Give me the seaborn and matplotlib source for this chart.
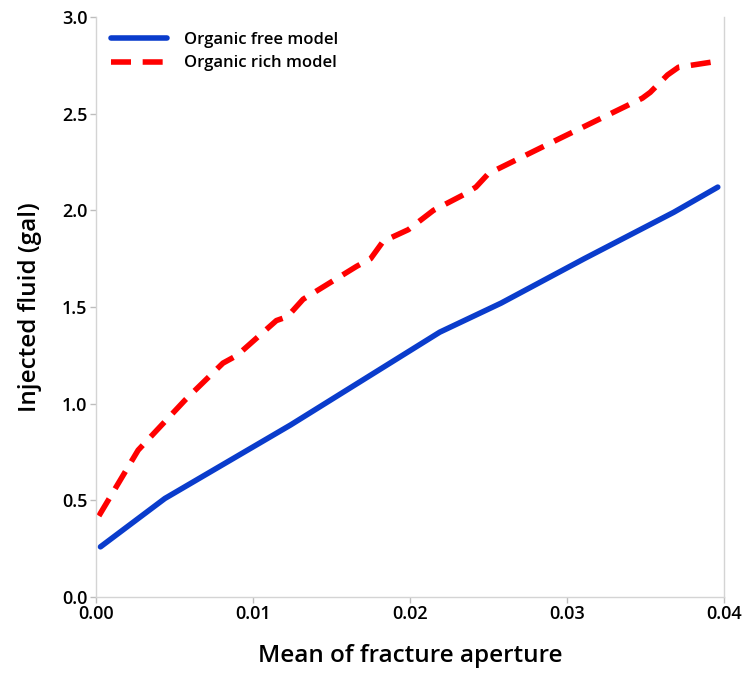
import matplotlib
matplotlib.use("Agg")
import matplotlib.pyplot as plt
import seaborn as sns

free_x = [0.0003, 0.0044, 0.0124, 0.0219, 0.0258, 0.0311, 0.0368, 0.0396]
free_y = [0.26, 0.51, 0.89, 1.37, 1.52, 1.75, 1.99, 2.12]

rich_x = [0.0002, 0.0027, 0.0057, 0.0081, 0.0090, 0.0115, 0.0122, 0.0132,
          0.0166, 0.0175, 0.0183, 0.0199, 0.0215, 0.0234, 0.0242, 0.0250,
          0.0295, 0.0348, 0.0353, 0.0364, 0.0371, 0.0395]
rich_y = [0.42, 0.76, 1.02, 1.21, 1.25, 1.43, 1.45, 1.54,
          1.71, 1.75, 1.84, 1.90, 2.00, 2.08, 2.12, 2.19,
          2.37, 2.58, 2.61, 2.70, 2.74, 2.77]

x_ticks = [0.00, 0.01, 0.02, 0.03, 0.04]
y_ticks = [0.0, 0.5, 1.0, 1.5, 2.0, 2.5, 3.0]

sns.set_style("white")
plt.rcParams['font.family'] = ['Open Sans', 'DejaVu Sans']
plt.rcParams['text.color'] = 'black'
plt.rcParams['axes.labelcolor'] = 'black'

fig = plt.figure(figsize=(7.48, 6.77), dpi=100)
ax = fig.add_axes([0.128, 0.118, 0.84, 0.857])

sns.lineplot(x=free_x, y=free_y, ax=ax, color="#0a3ccc", linewidth=4,
             sort=False, estimator=None, label="Organic free model")
sns.lineplot(x=rich_x, y=rich_y, ax=ax, color="#ff0000", linewidth=4,
             sort=False, estimator=None, label="Organic rich model")
ax.lines[1].set_dashes((3.6, 2.1))

ax.set_xlim(0, 0.04)
ax.set_ylim(0, 3.0)
ax.set_xticks(x_ticks)
ax.set_xticklabels([f"{v:.2f}" for v in x_ticks], fontweight="semibold")
ax.set_yticks(y_ticks)
ax.set_yticklabels([f"{v:.1f}" for v in y_ticks], fontweight="semibold")

for s in ["left", "bottom", "right"]:
    ax.spines[s].set_color("#d4d4d4")
    ax.spines[s].set_linewidth(1.0)
ax.spines["top"].set_visible(False)
ax.tick_params(axis="both", which="major", length=4, width=1, color="#bdbdbd",
               labelsize=13, labelcolor="black", direction="out",
               bottom=True, left=True, pad=2)

ax.set_xlabel("Mean of fracture aperture", fontsize=17.5, labelpad=15,
              fontweight="semibold", color="black")
ax.set_ylabel("Injected fluid (gal)", fontsize=17.5, labelpad=14,
              fontweight="semibold", color="black")

leg = ax.legend(loc="upper left", frameon=False, handlelength=3.4,
                borderaxespad=0.5, labelspacing=0.45, handletextpad=1.0,
                prop={"size": 12, "weight": "semibold"})
for t in leg.get_texts():
    t.set_color("black")
leg.get_lines()[1].set_dashes((3.6, 2.1))

fig.savefig("out.png", dpi=100)
